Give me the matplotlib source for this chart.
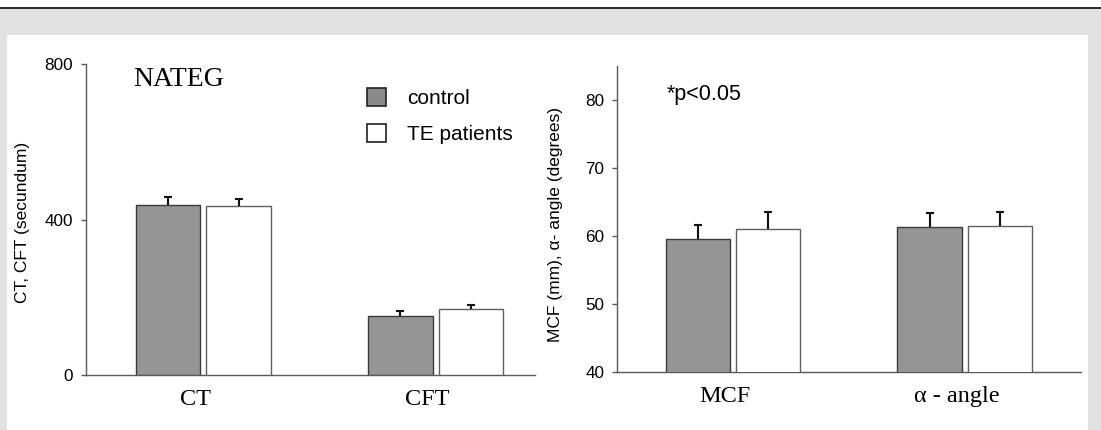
import numpy as np
import matplotlib
matplotlib.use("Agg")
import matplotlib.pyplot as plt
from matplotlib.patches import Rectangle, Patch

# group means and upper error (SD) for both panels
time_groups = ["CT", "CFT"]
time_control = [438, 151]
time_control_err = [20, 14]
time_te = [434, 169]
time_te_err = [19, 12]

clot_groups = ["MCF", "α - angle"]
clot_control = [59.5, 61.3]
clot_control_err = [2.1, 2.0]
clot_te = [61.0, 61.4]
clot_te_err = [2.5, 2.05]

series_labels = ["control", "TE patients"]
left_yticks = [0, 400, 800]
right_yticks = [40, 50, 60, 70, 80]

W, H = 1101, 430
SANS = "Liberation Sans"
SERIF = "Liberation Serif"

fig = plt.figure(figsize=(W / 100, H / 100), dpi=100)
fig.patch.set_facecolor("white")

# frame: dark rule, grey surround, white panel
bg = fig.add_axes([0, 0, 1, 1], zorder=-10)
bg.set_xlim(0, W)
bg.set_ylim(H, 0)
bg.axis("off")
bg.add_patch(Rectangle((0, 9.3), W, H, facecolor="#e2e2e2", edgecolor="none"))
bg.add_patch(Rectangle((0, 7.3), W, 2.0, facecolor="#2e2e2e", edgecolor="none"))
bg.add_patch(Rectangle((7, 35), 1081, H, facecolor="white", edgecolor="none"))


def px_axes(left, top, right, bottom):
    return fig.add_axes([left / W, (H - bottom) / H, (right - left) / W, (bottom - top) / H])


BAR_W = 0.2765
OFFSET = 0.152
LABEL_NUDGE = 0.035  # group labels sit a little left of the bar pair
AXIS_GREY = "#5a5a5a"


def draw_panel(ax, groups, ctrl, ctrl_err, te, te_err):
    x = np.arange(len(groups))
    zeros = np.zeros(len(groups))
    ekw = dict(ecolor="#111111", elinewidth=1.5, capsize=3.2, capthick=1.5, zorder=4)
    bars = [
        ax.bar(x - OFFSET, ctrl, BAR_W, color="#959595", edgecolor="#3a3a3a",
               linewidth=1.0, yerr=[zeros, ctrl_err], error_kw=ekw, zorder=3),
        ax.bar(x + OFFSET, te, BAR_W, color="white", edgecolor="#606060",
               linewidth=1.0, yerr=[zeros, te_err], error_kw=ekw, zorder=3),
    ]
    # one-sided error bars: drop the cap sitting on the bar top
    for b in bars:
        caps = b.errorbar.lines[1]
        caps[0].set_visible(False)
    ax.set_xticks(x - LABEL_NUDGE)
    ax.set_xticklabels(groups, fontfamily=SERIF, fontsize=17.5)
    ax.tick_params(axis="x", length=0, pad=10)
    ax.tick_params(axis="y", length=3.6, width=1.0, color=AXIS_GREY, pad=5.5,
                   labelsize=12.3)
    for lab in ax.get_yticklabels():
        lab.set_fontfamily(SANS)
    for side in ("top", "right"):
        ax.spines[side].set_visible(False)
    for side in ("left", "bottom"):
        ax.spines[side].set_color(AXIS_GREY)
        ax.spines[side].set_linewidth(1.0)
    ax.set_facecolor("none")


# left panel: clotting times
ax1 = px_axes(86, 64, 534.6, 375)
draw_panel(ax1, time_groups, time_control, time_control_err, time_te, time_te_err)
ax1.set_xlim(-0.504, 1.425)
ax1.set_ylim(0, 800)
ax1.set_yticks(left_yticks)
ax1.set_ylabel("CT, CFT (secundum)", fontfamily=SANS, fontsize=12.5)
ax1.yaxis.set_label_coords(-0.125, 0.49)

# right panel: MCF and alpha angle
ax2 = px_axes(617, 66, 1080.7, 371.7)
draw_panel(ax2, clot_groups, clot_control, clot_control_err, clot_te, clot_te_err)
ax2.set_xlim(-0.5, 1.5)
ax2.set_ylim(40, 85)
ax2.set_yticks(right_yticks)
ax2.set_ylabel("MCF (mm), α- angle (degrees)", fontfamily=SANS, fontsize=12.5)
ax2.yaxis.set_label_coords(-0.1165, 0.48)

fig.text(133 / W, (H - 86) / H, "NATEG", fontfamily=SERIF, fontsize=20,
         ha="left", va="baseline")
fig.text(667 / W, (H - 100) / H, "*p<0.05", fontfamily=SANS, fontsize=15.5,
         ha="left", va="baseline")

handles = [Patch(facecolor="#8a8a8a", edgecolor="#222222", linewidth=1.2),
           Patch(facecolor="white", edgecolor="#222222", linewidth=1.2)]
leg = ax1.legend(handles, series_labels, loc="upper left",
                 bbox_to_anchor=(366.7 / W, (H - 88) / H),
                 bbox_transform=fig.transFigure, frameon=False,
                 handlelength=0.95, handleheight=0.95, handletextpad=1.0,
                 labelspacing=0.74, borderpad=0, borderaxespad=0,
                 prop={"family": SANS, "size": 15})

fig.savefig("out.png", dpi=100)
